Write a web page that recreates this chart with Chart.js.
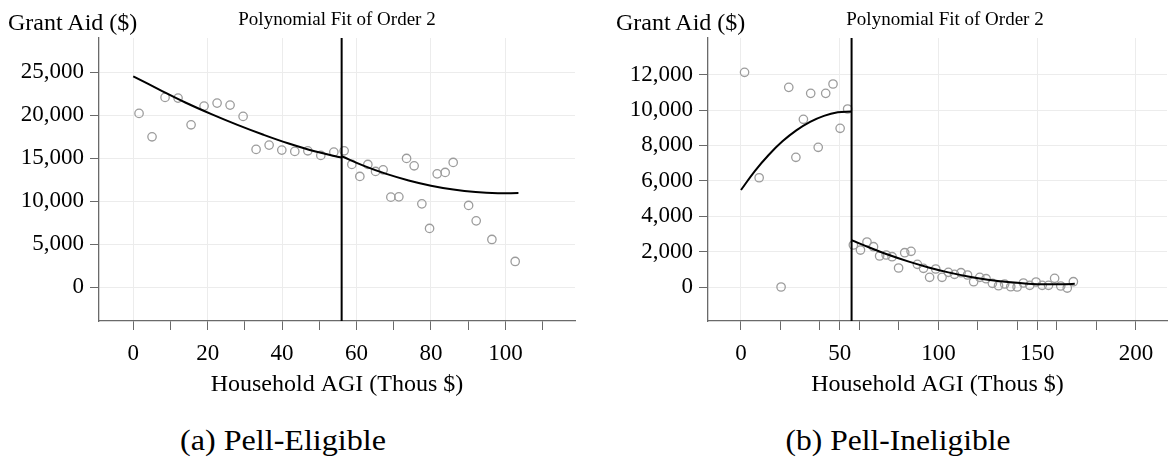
<!DOCTYPE html>
<html><head><meta charset="utf-8">
<script src="https://cdn.jsdelivr.net/npm/chart.js@4.4.1/dist/chart.umd.min.js"></script>
<style>
html,body{margin:0;padding:0;background:#fff;overflow:hidden;}
#wrap{position:relative;width:1170px;height:463px;overflow:hidden;background:#fff;font-family:"Liberation Serif",serif;color:#000;}
canvas{position:absolute;top:0;}
.t{position:absolute;white-space:nowrap;line-height:1;font-family:"Liberation Serif",serif;}
</style></head><body>
<div id="wrap">
<canvas id="c1" width="585" height="400" style="left:0px"></canvas>
<canvas id="c2" width="600" height="400" style="left:585px"></canvas>
<div class="t" style="left:8px;top:10px;font-size:24px">Grant Aid ($)</div>
<div class="t" style="left:137px;width:400px;text-align:center;top:9px;font-size:19px">Polynomial Fit of Order 2</div>
<div class="t" style="left:616px;top:10px;font-size:24px">Grant Aid ($)</div>
<div class="t" style="left:745px;width:400px;text-align:center;top:9px;font-size:19px">Polynomial Fit of Order 2</div>
<div class="t" style="left:83px;width:400px;text-align:center;top:425px;font-size:30px;transform:scaleX(1.07)">(a) Pell-Eligible</div>
<div class="t" style="left:698px;width:400px;text-align:center;top:425px;font-size:30px;transform:scaleX(1.05)">(b) Pell-Ineligible</div>
</div>
<script>
// ---------- shared ----------
const cutoff = 56;
const xTitle = 'Household AGI (Thous $)';

// ---------- Panel (a) Pell-Eligible ----------
const aBinX = [1.56,5.05,8.55,12.04,15.54,19.03,22.53,26.02,29.52,33.01,36.51,39.92,43.41,46.91,50.40,53.90,
               56.67,58.74,60.89,63.04,65.11,67.15,69.22,71.37,73.44,75.48,77.55,79.62,81.67,83.82,85.97,90.11,92.15,96.37,102.63];
const aBinY = [20233,17512,22093,22012,18907,21081,21430,21198,19884,16047,16547,15965,15814,15884,15349,15733,
               15884,14302,12907,14302,13488,13674,10500,10535,15000,14140,9721,6860,13209,13372,14535,9535,7744,5581,3023];
const aFitLowX  = [0,7,14,21,28,35,42,49,56];
const aFitLowY  = [24550,23000,21500,20150,18900,17750,16700,15800,15100];
const aFitHighX = [56,62,68,74,80,86,92,98,103.5];
const aFitHighY = [15250,14130,13200,12440,11830,11380,11090,10960,10970];
const aXTicks  = [0,10,20,30,40,50,60,70,80,90,100,110];
const aXLabels = [0,20,40,60,80,100];
const aYTicks  = [0,5000,10000,15000,20000,25000];
const aXRange  = [-9.2,118.7];
const aYRange  = [-3900,29000];

// ---------- Panel (b) Pell-Ineligible ----------
const bBinX = [1.8,9.2,20.3,24.2,27.8,31.6,35.3,39.1,42.9,46.6,50.2,54.0,
               56.9,60.5,63.8,67.1,70.2,73.5,76.5,79.8,82.9,86.1,89.3,92.4,95.5,98.6,101.8,105.0,108.1,111.4,114.7,
               117.8,120.9,124.1,127.3,130.4,133.5,136.6,139.8,143.0,146.2,149.4,152.5,155.7,158.8,161.9,165.2,168.3];
const bBinY = [12131,6175,0,11283,7328,9475,10944,7893,10944,11470,8967,10057,
               2373,2090,2543,2277,1752,1808,1712,1074,1938,2017,1283,1057,548,1017,548,831,718,808,678,
               300,548,469,209,73,170,17,0,226,96,283,96,96,492,57,-57,300];
const bFitLowX  = [0,7,14,21,28,35,42,49,56];
const bFitLowY  = [5480,6550,7460,8230,8850,9330,9670,9870,9920];
const bFitHighX = [56,65,75,85,95,105,115,125,135,145,155,165,169];
const bFitHighY = [2650,2235,1810,1434,1107,827,596,412,277,191,152,162,180];
const bXTicks  = [0,20,40,50,60,80,100,120,140,150,160,180,200];
const bXLabels = [0,50,100,150,200];
const bYTicks  = [0,2000,4000,6000,8000,10000,12000];
const bXRange  = [-16.7,215.7];
const bYRange  = [-1920,14070];

const FAM = "'Liberation Serif', serif";
Chart.defaults.font.family = FAM;
function pts(xs, ys){ return xs.map((x,i)=>({x:x, y:ys[i]})); }

function build(id, c){
  return new Chart(document.getElementById(id), {
    type:'scatter',
    data:{datasets:[
      {type:'line', data:[{x:cutoff,y:c.yr[0]},{x:cutoff,y:c.yr[1]}], borderColor:'#000', borderWidth:2, pointRadius:0, fill:false, tension:0},
      {type:'line', data:pts(c.lowX,c.lowY), borderColor:'#000', borderWidth:2, pointRadius:0, fill:false, tension:0.4},
      {type:'line', data:pts(c.highX,c.highY), borderColor:'#000', borderWidth:2, pointRadius:0, fill:false, tension:0.4},
      {data:pts(c.binX,c.binY), pointRadius:4.2, pointBorderWidth:1.3, borderColor:'#9c9c9c', pointBorderColor:'#9c9c9c', backgroundColor:'rgba(0,0,0,0)', pointBackgroundColor:'rgba(0,0,0,0)'}
    ]},
    options:{
      responsive:false, animation:false, devicePixelRatio:1,
      layout:{padding:{left:0, top:38, right:c.padR, bottom:0}},
      plugins:{legend:{display:false}, tooltip:{enabled:false}},
      scales:{
        x:{type:'linear', position:'bottom', min:c.xr[0], max:c.xr[1],
          afterBuildTicks:s=>{ s.ticks = c.xTicks.map(v=>({value:v})); },
          afterFit:s=>{ s.height = 79; },
          ticks:{autoSkip:false, maxRotation:0, minRotation:0, padding:10, color:'#000', font:{family:FAM, size:23},
                 callback:v=> c.xLabels.includes(v) ? String(v) : ''},
          grid:{color:ctx=> (ctx.tick && c.xLabels.includes(ctx.tick.value)) ? '#ececec' : 'rgba(0,0,0,0)',
                tickColor:'#6a6a6a', tickLength:9, lineWidth:1},
          border:{color:'#6a6a6a', width:1.3},
          title:{display:true, text:xTitle, color:'#000', font:{family:FAM, size:24}, padding:{top:0, bottom:1}}
        },
        y:{type:'linear', min:c.yr[0], max:c.yr[1],
          afterBuildTicks:s=>{ s.ticks = c.yTicks.map(v=>({value:v})); },
          afterFit:s=>{ s.width = c.yW; },
          ticks:{padding:6, color:'#000', font:{family:FAM, size:23}, callback:v=> Number(v).toLocaleString('en-US')},
          grid:{color:'#ececec', tickColor:'#6a6a6a', tickLength:9, lineWidth:1},
          border:{color:'#6a6a6a', width:1.3}
        }
      }
    }
  });
}

function go(){
  build('c1', {binX:aBinX, binY:aBinY, lowX:aFitLowX, lowY:aFitLowY, highX:aFitHighX, highY:aFitHighY,
    xTicks:aXTicks, xLabels:aXLabels, yTicks:aYTicks, xr:aXRange, yr:aYRange, padR:10, yW:99});
  build('c2', {binX:bBinX, binY:bBinY, lowX:bFitLowX, lowY:bFitLowY, highX:bFitHighX, highY:bFitHighY,
    xTicks:bXTicks, xLabels:bXLabels, yTicks:bYTicks, xr:bXRange, yr:bYRange, padR:18, yW:123});
}
let done = false;
function once(){ if(!done){ done = true; go(); } }
if (document.fonts && document.fonts.load) {
  Promise.all([document.fonts.load("23px 'Liberation Serif'"), document.fonts.load("24px 'Liberation Serif'")])
    .then(once, once);
  setTimeout(once, 1500);
} else { once(); }
</script>
</body></html>
